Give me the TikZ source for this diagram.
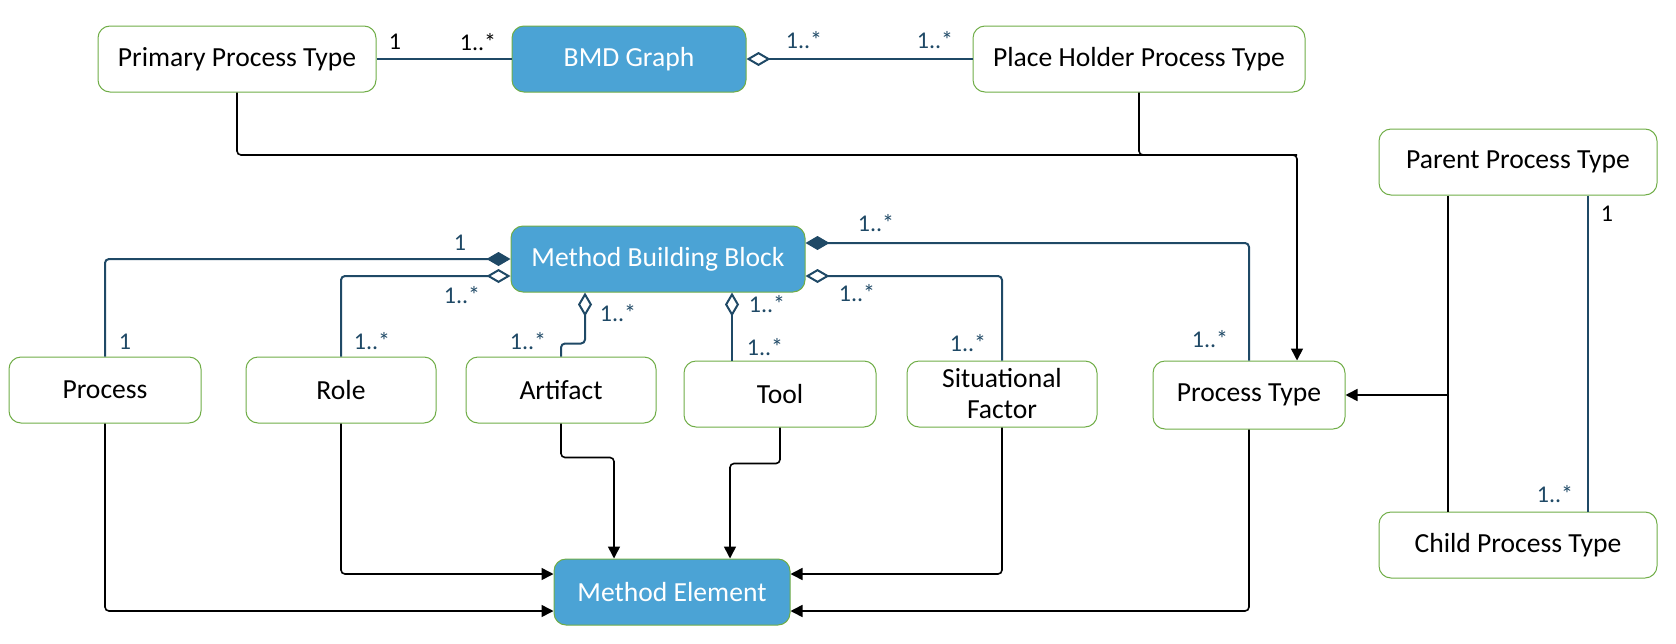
\documentclass[tikz,border=0pt]{standalone}
\usepackage{fontspec}
\setmainfont{Carlito}
\usetikzlibrary{arrows.meta,calc}
\definecolor{boxgreen}{RGB}{112,173,71}
\definecolor{bmdblue}{RGB}{75,163,213}
\definecolor{linknavy}{RGB}{31,73,102}

\begin{document}
\begin{tikzpicture}[x=0.5pt,y=-0.5pt,>={Triangle[length=6pt,width=6pt]},
  every node/.style={font=\fontsize{13.8}{15.5}\selectfont},
  cls/.style={draw=boxgreen,line width=0.5pt,rounded corners=6pt,fill=white,minimum height=33pt,align=center,inner sep=2pt},
  core/.style={cls,fill=bmdblue,text=white},
  flow/.style={->,black,line width=0.8pt,rounded corners=2pt},
  link/.style={linknavy,line width=1pt,rounded corners=2pt},
  agg/.style={link,-{Diamond[open,fill=white,length=12pt,width=7pt]}},
  comp/.style={link,-{Diamond[length=12pt,width=7pt]}},
  mult/.style={text=linknavy,font=\fontsize{12}{14}\selectfont}]

  \useasboundingbox (0,0) rectangle (1676,643);

  \node[cls,minimum width=139pt] (primary) at (237,59) {Primary Process Type};
  \node[core,minimum width=117pt] (bmd) at (629,59) {BMD Graph};
  \node[cls,minimum width=166pt] (holder) at (1139,59) {Place Holder Process Type};
  \node[cls,minimum width=139pt] (parent) at (1518,162) {Parent Process Type};
  \node[core,minimum width=147pt] (mbb) at (658,259) {Method Building Block};
  \node[cls,minimum width=96pt] (process) at (105,390) {Process};
  \node[cls,minimum width=95pt] (role) at (341,390) {Role};
  \node[cls,minimum width=95pt] (artifact) at (561,390) {Artifact};
  \node[cls,minimum width=96pt] (tool) at (780,394) {Tool};
  \node[cls,minimum width=95pt] (factor) at (1002,394) {Situational\\Factor};
  \node[cls,minimum width=96pt,minimum height=34pt] (ptype) at (1249,395) {Process Type};
  \node[cls,minimum width=139pt] (child) at (1518,545) {Child Process Type};
  \node[core,minimum width=118pt] (element) at (672,592) {Method Element};

  % graph row
  \draw[link] (primary) -- (bmd);
  \draw[agg] (holder) -- (bmd);
  \node[mult,text=black] at (395,42) {1};
  \node[mult,text=black] at (478,42) {1..*};
  \node[mult] at (804,40) {1..*};
  \node[mult] at (935,40) {1..*};

  \coordinate (turn) at (1297,155);
  \draw[flow] (primary) |- (turn) -- (turn |- ptype.north);
  \draw[flow,-] (holder) |- (turn);

  % parent / child
  \path ($(parent.south)+(-70,0)$) coordinate (pleft)
        ($(parent.south)+(70,0)$) coordinate (pright);
  \draw[flow,-] (pleft) -- (pleft |- child.north);
  \draw[flow] (pleft |- ptype.east) -- (ptype.east);
  \draw[link,line width=0.6pt] (pright) -- (pright |- child.north);
  \node[mult,text=black] at (1607,214) {1};
  \node[mult] at (1555,494) {1..*};

  % building block parts
  \path ($(mbb.south)+(-73,0)$) coordinate (mart)
        ($(mbb.south)+(74,0)$) coordinate (mtool);
  \draw[comp] (process) |- (mbb.west);
  \draw[agg] (role) |- ($(mbb.west)+(0,17)$);
  \draw[agg] (artifact.north) -- ++(0,-13) -| (mart);
  \draw[agg] (mtool |- tool.north) -- (mtool);
  \draw[agg] (factor) |- ($(mbb.east)+(0,17)$);
  \draw[comp] (ptype) |- ($(mbb.east)+(0,-16)$);

  \node[mult] at (460,243) {1};
  \node[mult] at (125,342) {1};
  \node[mult] at (462,295) {1..*};
  \node[mult] at (372,341) {1..*};
  \node[mult] at (618,313) {1..*};
  \node[mult] at (528,341) {1..*};
  \node[mult] at (767,304) {1..*};
  \node[mult] at (765,347) {1..*};
  \node[mult] at (857,293) {1..*};
  \node[mult] at (968,343) {1..*};
  \node[mult] at (876,223) {1..*};
  \node[mult] at (1210,339) {1..*};

  % method element
  \draw[flow] (process) |- ($(element.west)+(0,19)$);
  \draw[flow] (role) |- ($(element.west)+(0,-18)$);
  \draw[flow] (artifact.south) -- ++(0,34) -| ($(element.north)+(-58,0)$);
  \draw[flow] (tool.south) -- ++(0,36) -| ($(element.north)+(58,0)$);
  \draw[flow] (factor) |- ($(element.east)+(0,-18)$);
  \draw[flow] (ptype) |- ($(element.east)+(0,19)$);
\end{tikzpicture}
\end{document}
